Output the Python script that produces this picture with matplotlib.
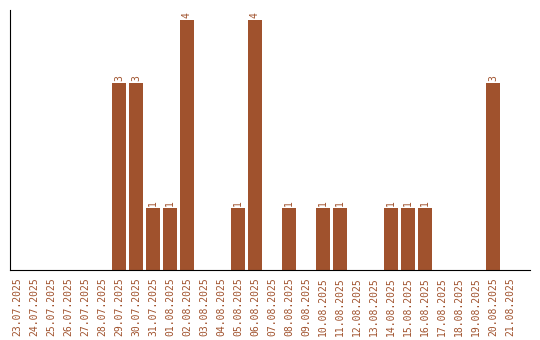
import matplotlib
matplotlib.use("Agg")
from matplotlib import pyplot as plt

dates = [
    "23.07.2025", "24.07.2025", "25.07.2025", "26.07.2025", "27.07.2025",
    "28.07.2025", "29.07.2025", "30.07.2025", "31.07.2025", "01.08.2025",
    "02.08.2025", "03.08.2025", "04.08.2025", "05.08.2025", "06.08.2025",
    "07.08.2025", "08.08.2025", "09.08.2025", "10.08.2025", "11.08.2025",
    "12.08.2025", "13.08.2025", "14.08.2025", "15.08.2025", "16.08.2025",
    "17.08.2025", "18.08.2025", "19.08.2025", "20.08.2025", "21.08.2025",
]
values = [0, 0, 0, 0, 0, 0, 3, 3, 1, 1,
          4, 0, 0, 1, 4, 0, 1, 0, 1, 1,
          0, 0, 1, 1, 1, 0, 0, 0, 3, 0]

color = "#a0522d"

fig = plt.figure(figsize=(5.4, 3.4), dpi=100)
ax = fig.add_axes([10 / 540, 70 / 340, 520 / 540, 260 / 340])

x = list(range(len(dates)))
ax.bar(x, values, width=0.82, color=color)
for xi, v in zip(x, values):
    if v > 0:
        ax.text(xi, v + 0.03, str(v), rotation=90, ha="center", va="bottom",
                fontsize=7, color=color, family="DejaVu Sans Mono")

ax.set_xlim(-0.41, 30.18)
ax.set_ylim(0, 4.16)
ax.set_xticks(x)
ax.set_xticklabels(dates, rotation=90, fontsize=7, color=color,
                   family="DejaVu Sans Mono")
ax.tick_params(axis="x", length=0, pad=5)
ax.set_yticks([])
ax.spines["top"].set_visible(False)
ax.spines["right"].set_visible(False)

fig.savefig("out.png", dpi=100)
